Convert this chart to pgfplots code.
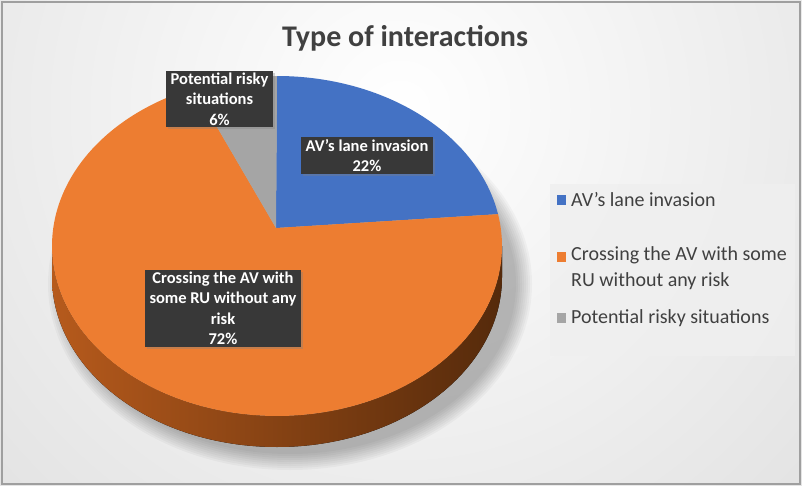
\documentclass[border=0pt]{standalone}
\usepackage{pgfplots}
\pgfplotsset{compat=1.18}
\usepackage{pgfplotstable}
\usepackage{fontspec}
\setmainfont{Carlito}
\usetikzlibrary{shadows}
\definecolor{cBlue}{HTML}{4472C4}
\definecolor{cOrange}{HTML}{ED7D31}
\definecolor{cGray}{HTML}{A5A5A5}
\definecolor{cSideL}{HTML}{B65A1C}
\definecolor{cSideR}{HTML}{552A0B}
\definecolor{cLbl}{HTML}{383838}
\definecolor{cTxt}{HTML}{404040}
\definecolor{cBgOut}{HTML}{D2D2D2}
\definecolor{cLeg}{HTML}{EFEFEF}
\pgfplotstableread{
id value
1 22
2 72
3 6
}\pietable
\def\cx{277}\def\cy{246}\def\rx{225}\def\ry{170}\def\px{276}\def\py{228}\def\dep{31}
\begin{document}%
\begin{tikzpicture}
\pgfplotstablegetelem{0}{value}\of\pietable \edef\vA{\pgfplotsretval}
\pgfplotstablegetelem{1}{value}\of\pietable \edef\vB{\pgfplotsretval}
\pgfplotstablegetelem{2}{value}\of\pietable \edef\vC{\pgfplotsretval}
\pgfmathsetmacro\aA{90-3.6*\vA}
\pgfmathsetmacro\aB{\aA-3.6*\vB}
\pgfmathsetmacro\aC{\aB-3.6*\vC}
\begin{axis}[width=802pt,height=486pt,scale only axis,
  xmin=0,xmax=802,ymin=0,ymax=486,y dir=reverse,hide axis,clip=false]
\coordinate (BL) at (axis cs:0,486);
\coordinate (TR) at (axis cs:802,0);
% background
\begin{scope}
\clip (axis cs:0,0) rectangle (axis cs:802,486);
\fill[cBgOut] (axis cs:0,0) rectangle (axis cs:802,486);
\shade[inner color=white, outer color=cBgOut] (axis cs:400,110) circle (900pt);
\end{scope}
\draw[gray!75, line width=1.2pt] (axis cs:2,2) rectangle (axis cs:800,484);
% shadow
\pgfplotsinvokeforeach{2,4,6,8,10,12,14,16,18}{
  \fill[black, opacity=0.03] (axis cs:290,284) ellipse [x radius={(224+#1)*1pt}, y radius={(168+#1)*1pt}];
}
% side of pie
\fill[left color=cSideL, right color=cSideR] (axis cs:52,246) arc[start angle=180,end angle=360,x radius=225pt,y radius=170pt]
  -- ++(0pt,-31pt) arc[start angle=360,end angle=180,x radius=225pt,y radius=170pt] -- cycle;
% top face slices
\addplot[fill=cBlue, draw=none, domain=\aA:90, samples=80, variable=\t]
  ({\cx+\rx*cos(\t)},{\cy-\ry*sin(\t)}) -- (axis cs:\px,\py) -- cycle;
\addplot[fill=cOrange, draw=none, domain=\aB:\aA, samples=200, variable=\t]
  ({\cx+\rx*cos(\t)},{\cy-\ry*sin(\t)}) -- (axis cs:\px,\py) -- cycle;
\addplot[fill=cGray, draw=none, domain=\aC:\aB, samples=30, variable=\t]
  ({\cx+\rx*cos(\t)},{\cy-\ry*sin(\t)}) -- (axis cs:\px,\py) -- cycle;
% title
\node[font=\fontsize{30}{36}\selectfont\bfseries, text=cTxt] at (axis cs:405,38) {Type of interactions};
% data labels
\tikzset{lbl/.style={fill=cLbl, text=white, font=\fontsize{16.5}{20.5}\selectfont\bfseries, align=center,
  inner xsep=5pt, inner ysep=2pt, drop shadow={opacity=0.35, shadow xshift=2pt, shadow yshift=-2pt}}}
\node[lbl] at (axis cs:219.5,99) {Potential risky\\situations\\6\%};
\node[lbl] at (axis cs:367,155.5) {AV's lane invasion\\22\%};
\node[lbl] at (axis cs:223,308.5) {Crossing the AV with\\some RU without any\\risk\\72\%};
% legend
\fill[cLeg, opacity=0.8] (axis cs:550,184) rectangle (axis cs:795,356);
\fill[cBlue] (axis cs:557,195) rectangle (axis cs:566,205);
\fill[cOrange] (axis cs:557,252) rectangle (axis cs:566,262);
\fill[cGray] (axis cs:557,313) rectangle (axis cs:566,323);
\tikzset{leg/.style={font=\fontsize{20}{26}\selectfont, text=cTxt, anchor=west, align=left, inner sep=0pt}}
\node[leg] at (axis cs:571,200) {AV's lane invasion};
\node[leg, anchor=north west] at (axis cs:571,246) {Crossing the AV with some\\RU without any risk};
\node[leg] at (axis cs:571,318) {Potential risky situations};
\end{axis}
\pgfresetboundingbox
\useasboundingbox (BL) rectangle (TR);
\end{tikzpicture}%
\end{document}
